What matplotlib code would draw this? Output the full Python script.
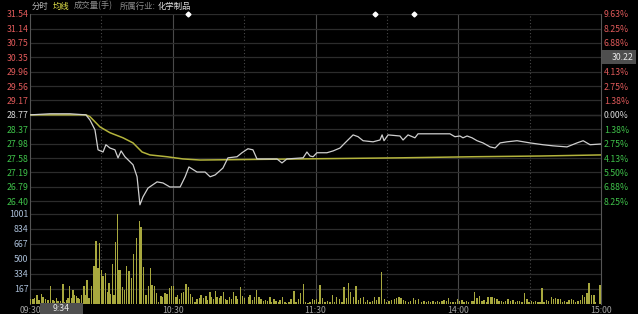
import matplotlib
matplotlib.use("Agg")
from matplotlib import pyplot as plt
from matplotlib.patches import Rectangle

plt.rcParams['font.family'] = ['Noto Sans CJK SC', 'DejaVu Sans']

# minutes since 09:30 (trading time, 0..240)
price_min = [0, 8.4, 16.8, 23.5, 25.2, 27.3, 28.6, 30.7, 31.9, 33.6, 35.7, 37.0, 38.3, 39.9,
             43.3, 45.0, 46.2, 47.5, 49.6, 53.4, 55.9, 58.8, 63.1, 65.2, 66.8, 70.2, 73.6,
             75.7, 77.8, 81.1, 83.2, 87.0, 89.1, 91.6, 93.7, 95.4, 99.6, 103.8, 105.9, 108.0,
             114.8, 116.4, 117.7, 119.0, 120.6, 124.8, 127.4, 130.3, 132.4, 135.8, 137.9,
             140.0, 144.2, 147.1, 148.0, 148.8, 150.5, 155.5, 156.8, 158.9, 161.8, 163.1,
             176.5, 178.6, 180.7, 182.0, 183.7, 185.8, 187.9, 190.4, 193.4, 195.5, 197.6,
             200.5, 204.7, 210.2, 215.6, 219.8, 225.7, 229.9, 232.5, 235.4, 240]
price_val = [28.77, 28.80, 28.80, 28.77, 28.63, 28.36, 27.81, 27.75, 27.95, 27.86, 27.81, 27.59,
             27.78, 27.62, 27.40, 27.07, 26.30, 26.52, 26.76, 26.93, 26.90, 26.79, 26.79, 27.07,
             27.34, 27.20, 27.20, 27.07, 27.12, 27.31, 27.59, 27.62, 27.73, 27.84, 27.81, 27.56,
             27.56, 27.56, 27.45, 27.56, 27.59, 27.75, 27.64, 27.62, 27.73, 27.73, 27.78, 27.86,
             28.00, 28.22, 28.17, 28.06, 28.03, 28.08, 28.22, 28.06, 28.22, 28.19, 28.08, 28.22,
             28.14, 28.25, 28.25, 28.17, 28.19, 28.14, 28.19, 28.14, 28.06, 28.00, 27.89, 27.86,
             28.00, 28.03, 28.06, 28.00, 27.95, 27.92, 27.89, 28.00, 28.06, 27.95, 27.97]

avg_min = [0, 23.5, 25.2, 29.4, 33.6, 39.1, 43.3, 47.1, 50.4, 57.6, 64.3, 71.5, 113.5, 155.5,
           186.2, 214.4, 240]
avg_val = [28.77, 28.77, 28.72, 28.44, 28.28, 28.14, 28.00, 27.75, 27.67, 27.62, 27.56, 27.53,
           27.56, 27.59, 27.62, 27.64, 27.67]

vol_min = [0.3, 1.3, 2.0, 2.9, 3.8, 4.8, 5.5, 6.4, 7.3, 7.8, 8.7, 9.7, 10.4, 11.1, 11.8, 12.8,
           13.9, 14.6, 15.6, 16.0, 16.7, 17.4, 18.1, 18.8, 19.5, 20.2, 20.9, 21.6, 22.7, 23.3,
           24.0, 24.8, 25.8, 26.9, 27.7, 28.6, 29.3, 30.0, 30.7, 31.7, 32.5, 33.2, 33.9, 34.6,
           35.3, 35.9, 36.7, 37.4, 38.1, 38.8, 39.8, 40.6, 41.6, 42.6, 43.6, 44.7,
           46.0, 46.7, 47.6, 48.8, 49.7, 50.6, 51.3, 52.3, 53.2, 54.1, 55.1, 55.8, 56.7, 57.6,
           58.6, 59.5, 60.4, 61.4, 62.1, 62.8, 63.8, 64.6, 65.6, 66.6, 67.4, 68.4, 69.4, 70.2,
           71.2, 71.9, 72.9, 74.0, 74.7, 75.7, 76.4, 77.1, 77.9, 78.6, 79.6, 80.3, 81.3, 82.1,
           82.8, 83.8, 84.7, 85.6, 86.6, 87.3, 88.4, 89.4, 90.1,
           91.8, 92.5, 93.6, 94.3, 95.3, 96.3, 97.1, 98.1, 99.1, 99.9, 100.9, 101.6, 102.6,
           103.4, 104.4, 105.1, 106.1, 107.2, 107.9, 108.9, 109.7, 111.0, 111.8, 112.8, 113.8,
           114.9, 115.9, 116.8, 117.7, 118.8, 119.5, 120.5, 121.2, 121.9, 123.0, 124.0, 125.1,
           126.1, 127.1, 127.9, 128.9, 130.1, 131.1, 132.0, 133.1, 134.0, 134.8, 135.9, 137.0,
           138.0, 139.0, 140.1, 141.1, 141.9, 142.9, 143.9, 144.7, 145.7, 146.7, 147.8, 148.9,
           149.9, 150.9, 152.0, 153.1, 154.1, 155.1, 155.9, 156.9, 157.9, 159.0, 160.0, 161.1,
           162.1, 163.2,
           164.5, 165.6, 166.6, 167.6, 168.4, 169.4, 170.4, 171.2, 172.2, 173.2, 174.0, 175.0,
           176.0, 176.8, 177.8, 178.8, 179.6, 180.6, 181.6, 182.4, 183.4, 184.4, 185.5, 186.2,
           186.9, 187.9, 189.0, 190.0, 190.8, 191.8, 192.5, 193.5, 194.2, 195.3, 196.3, 197.1,
           198.1, 199.1, 199.9, 200.9, 202.1, 203.0, 204.0, 204.8, 205.8, 206.8, 207.9, 208.9,
           209.8, 210.7, 211.7, 212.6, 213.5, 214.4, 215.2, 216.1, 217.1, 218.0, 219.1, 220.1,
           221.0, 221.9, 222.9, 223.8, 224.7, 225.7, 226.6, 227.5, 228.5, 229.4, 230.3, 231.3,
           232.2, 233.2, 234.1, 235.0, 236.0, 237.0, 237.8, 239.6]
vol_val = [52, 55, 63, 100, 44, 107, 81, 52, 40, 48, 200, 44, 33, 63, 33, 33,
           218, 26, 48, 70, 200, 70, 155, 100, 92, 63, 55, 100, 200, 100,
           266, 70, 200, 422, 699, 403, 673, 377, 314, 340, 130, 229, 107, 440,
           100, 684, 1001, 377, 377, 192, 155, 422, 366, 292, 551, 729,
           921, 858, 414, 100, 200, 396, 211, 200, 118, 26, 92, 81, 118, 107,
           174, 200, 204, 81, 100, 55, 118, 130, 218, 192, 107, 81, 26, 55,
           63, 100, 63, 92, 44, 137, 81, 52, 144, 81, 70, 92, 130, 55,
           44, 81, 52, 137, 92, 52, 192, 92, 70,
           81, 100, 44, 74, 155, 74, 52, 37, 44, 37, 74, 26, 52,
           37, 26, 44, 81, 26, 15, 26, 52, 148, 26, 52, 118,
           222, 26, 15, 26, 52, 44, 52, 26, 211, 63, 26, 37,
           26, 100, 26, 81, 52, 26, 192, 70, 229, 137, 81, 200,
           44, 63, 74, 26, 44, 26, 37, 74, 44, 74, 359, 52,
           26, 37, 44, 52, 63, 74, 63, 44, 37, 26, 37, 70,
           44, 52,
           26, 33, 26, 37, 26, 33, 26, 33, 26, 37, 44, 33,
           63, 26, 18, 26, 52, 37, 44, 26, 33, 26, 33, 37,
           130, 63, 89, 33, 44, 26, 81, 74, 81, 63, 55, 33,
           33, 26, 33, 55, 37, 44, 26, 37, 33, 26, 118, 52,
           26, 33, 26, 33, 26, 26, 181, 26, 44, 37, 74, 52,
           63, 52, 52, 26, 33, 26, 44, 52, 44, 26, 33, 44,
           100, 81, 118, 237, 100, 100, 26, 215]

price_ticks = [26.40, 26.79, 27.19, 27.58, 27.98, 28.37, 28.77, 29.17, 29.56, 29.96, 30.35,
               30.75, 31.14, 31.54]
# the 5.50% label on the upper side is hidden under the cursor price box
pct_labels = ['8.25%', '6.88%', '5.50%', '4.13%', '2.75%', '1.38%', '0.00%', '1.38%', '2.75%',
              '4.13%', '', '6.88%', '8.25%', '9.63%']
prev_close = 28.77
cursor_price = '30.22'
cursor_time = '9:34'
vol_ticks = [167, 334, 500, 667, 834, 1001]
time_ticks = [0, 60, 120, 180, 240]
time_labels = ['09:30', '10:30', '11:30', '14:00', '15:00']
event_min = [66.4, 145.0, 161.4]

RED = '#e05a5a'
GREEN = '#3fc24a'
GRID = '#2c2c2c'

W, H = 638, 314
fig = plt.figure(figsize=(W / 100, H / 100), dpi=100, facecolor='black')
ax = fig.add_axes([30 / W, (H - 207) / H, 571 / W, 193 / H], facecolor='black')
axv = fig.add_axes([30 / W, (H - 304) / H, 571 / W, 97 / H], facecolor='black', sharex=ax)

ax.set_xlim(0, 240)
ax.set_ylim(26.24, 31.54)
axv.set_ylim(0, 1077)

for a in (ax, axv):
    for s in a.spines.values():
        s.set_visible(False)
    a.spines['left'].set_visible(True)
    a.spines['right'].set_visible(True)
    a.spines['left'].set_color('#555555')
    a.spines['right'].set_color('#555555')
    for m in (60, 120, 180):
        a.axvline(m, color='#4a4a4a', lw=0.8, zorder=1)
    for m in (30, 90, 150, 210):
        a.axvline(m, color='#4a4a4a', lw=0.8, ls=(0, (1, 2)), zorder=1)

# price grid + labels
ax.set_yticks(price_ticks)
ax.set_yticklabels([f'{v:.2f}' for v in price_ticks])
ax.grid(axis='y', color=GRID, lw=0.9)
ax.axhline(prev_close, color='#4a4a4a', lw=0.9, zorder=1)
ax.tick_params(axis='y', length=0, pad=1, labelsize=6.3)
ax.tick_params(axis='x', bottom=False, labelbottom=False)
for lab, v in zip(ax.get_yticklabels(), price_ticks):
    lab.set_color(RED if v > prev_close else (GREEN if v < prev_close else '#d8d8d8'))

axr = ax.twinx()
axr.set_ylim(ax.get_ylim())
axr.set_yticks(price_ticks)
axr.set_yticklabels(pct_labels)
axr.tick_params(axis='y', length=0, pad=2, labelsize=6.3)
for s in axr.spines.values():
    s.set_visible(False)
for lab, v in zip(axr.get_yticklabels(), price_ticks):
    lab.set_color(RED if v > prev_close else (GREEN if v < prev_close else '#d8d8d8'))

ax.plot(avg_min, avg_val, color='#b4b43c', lw=1.1, zorder=3)
ax.plot(price_min, price_val, color='#cfcfcf', lw=0.9, zorder=4)
ax.plot(event_min, [31.54] * len(event_min), ls='none', marker='D', ms=2.5,
        color='white', clip_on=False, zorder=5)

# volume panel
axv.set_yticks(vol_ticks)
axv.set_yticklabels([str(v) for v in vol_ticks])
axv.grid(axis='y', color=GRID, lw=0.9)
axv.tick_params(axis='y', length=0, pad=1, labelsize=6.3, labelcolor='#a9bdd6')
axv.bar(vol_min, vol_val, width=0.55, color='#a8a83e', zorder=3)
axv.set_xticks(time_ticks)
axv.set_xticklabels(time_labels)
axv.tick_params(axis='x', length=0, pad=1.5, labelsize=6.3, labelcolor='#a0a0a0')

# header
hy = 1 - 6 / H
fig.text(32 / W, hy, '分时', color='#b8b8b8', fontsize=6, va='center')
fig.text(53 / W, hy, '均线', color='#e6e64a', fontsize=6, va='center')
fig.text(74 / W, hy, '成交量(手)', color='#8c8c8c', fontsize=6, va='center')
fig.text(120 / W, hy, '所属行业:', color='#8c8c8c', fontsize=6, va='center')
fig.text(158 / W, hy, '化学制品', color='#e0e0e0', fontsize=6, va='center')

# crosshair labels
fig.patches.append(Rectangle((40 / W, 0), 43 / W, 11 / H, transform=fig.transFigure,
                             fc='#505050', ec='none', zorder=5))
fig.text(61 / W, 5.5 / H, cursor_time, color='#e8e8e8', fontsize=6.3, ha='center',
         va='center', zorder=6)
fig.patches.append(Rectangle((602 / W, 1 - 64 / H), 34 / W, 14 / H, transform=fig.transFigure,
                             fc='#4e4e4e', ec='none', zorder=5))
fig.text(633 / W, 1 - 57 / H, cursor_price, color='#e8e8e8', fontsize=6.3, ha='right',
         va='center', zorder=6)

fig.savefig('out.png', dpi=100, facecolor='black')
